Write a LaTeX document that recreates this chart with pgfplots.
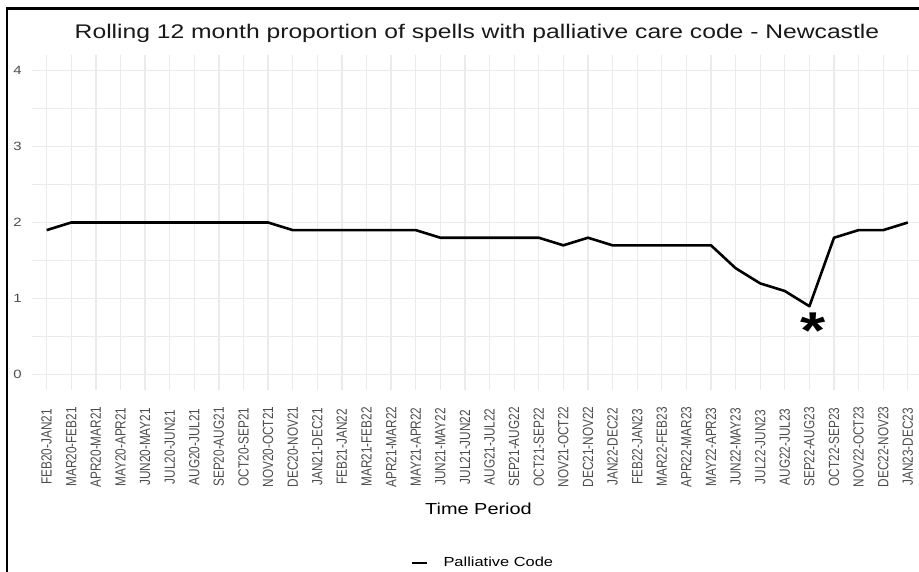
\documentclass[border=0pt]{standalone}
\usepackage{pgfplots}
\pgfplotsset{compat=1.18}
\usepackage{fontspec}
\setmainfont[FakeStretch=1.25]{Liberation Sans}
\newfontfamily\vfont[FakeStretch=0.8]{Liberation Sans}
\definecolor{gridc}{HTML}{EBEBEB}
\definecolor{tickc}{HTML}{4D4D4D}
\begin{document}
\begin{tikzpicture}
\useasboundingbox (0,0) rectangle (919bp,572bp);
\draw[line width=2.5bp] (7bp,0) -- (7bp,563.5bp) -- (919bp,563.5bp);
\begin{axis}[
  at={(31.9bp,182bp)}, anchor=south west,
  scale only axis, width=887bp, height=335bp,
  xmin=-0.6, xmax=35.45, ymin=-0.2, ymax=4.2,
  axis line style={draw=none}, tick style={draw=none},
  xtick={0,...,35},
  xticklabels={FEB20-JAN21,MAR20-FEB21,APR20-MAR21,MAY20-APR21,JUN20-MAY21,JUL20-JUN21,AUG20-JUL21,SEP20-AUG21,OCT20-SEP21,NOV20-OCT21,DEC20-NOV21,JAN21-DEC21,FEB21-JAN22,MAR21-FEB22,APR21-MAR22,MAY21-APR22,JUN21-MAY22,JUL21-JUN22,AUG21-JUL22,SEP21-AUG22,OCT21-SEP22,NOV21-OCT22,DEC21-NOV22,JAN22-DEC22,FEB22-JAN23,MAR22-FEB23,APR22-MAR23,MAY22-APR23,JUN22-MAY23,JUL22-JUN23,AUG22-JUL23,SEP22-AUG23,OCT22-SEP23,NOV22-OCT23,DEC22-NOV23,JAN23-DEC23},
  ytick={0,1,2,3,4}, minor ytick={0.5,1.5,2.5,3.5},
  xmajorgrids, ymajorgrids, yminorgrids,
  major grid style={gridc, line width=1.3bp},
  minor grid style={gridc, line width=0.8bp},
  /pgf/number format/assume math mode=true,
  yticklabel style={font=\fontsize{12}{12}\selectfont, text=tickc, inner sep=0pt, anchor=east, xshift=-10bp},
  xticklabel style={font=\vfont\fontsize{14.8}{14.8}\selectfont, text=tickc, inner sep=0pt, yshift=-57bp, rotate=90, anchor=center},
  legend style={at={(0.5086,-0.516)}, anchor=center, draw=none, fill=none, font=\fontsize{13.2}{13.2}\selectfont, inner sep=0pt},
  legend image code/.code={\draw[line width=2.6bp, black] (0bp,0bp) -- (15bp,0bp); \path (28bp,0bp);},
  clip=false,
]
\addplot[black, line width=2.6bp, line join=round] coordinates {
(0,1.9) (1,2.0) (2,2.0) (3,2.0) (4,2.0) (5,2.0) (6,2.0) (7,2.0) (8,2.0) (9,2.0)
(10,1.9) (11,1.9) (12,1.9) (13,1.9) (14,1.9) (15,1.9)
(16,1.8) (17,1.8) (18,1.8) (19,1.8) (20,1.8)
(21,1.7) (22,1.8) (23,1.7) (24,1.7) (25,1.7) (26,1.7) (27,1.7)
(28,1.4) (29,1.2) (30,1.1) (31,0.9) (32,1.8) (33,1.9) (34,1.9) (35,2.0)
};
\addlegendentry{Palliative Code}
\addplot[draw=none, forget plot, nodes near coords={\bfseries *},
  every node near coord/.style={anchor=base, inner sep=0pt, xshift=4bp, font=\fontsize{52}{52}\selectfont}]
  coordinates {(31,0.34)};
\end{axis}
\node[font=\fontsize{19.8}{20}\selectfont, text=black!90, anchor=base] at (477bp,533bp) {Rolling 12 month proportion of spells with palliative care code - Newcastle};
\node[font=\fontsize{16}{16}\selectfont, anchor=base] at (478.5bp,57bp) {Time Period};
\end{tikzpicture}
\end{document}
